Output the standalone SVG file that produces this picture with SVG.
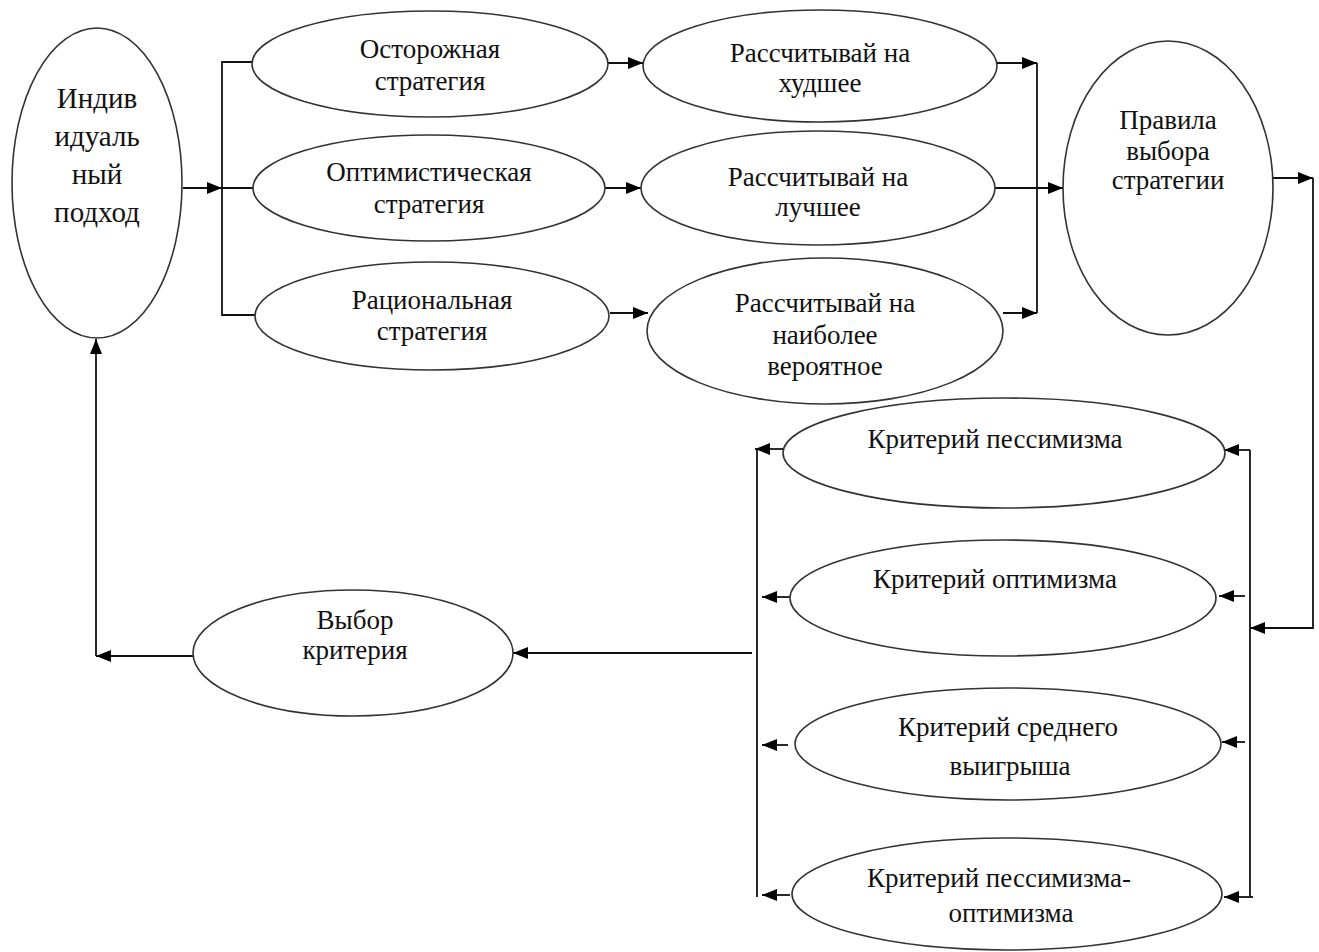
<svg xmlns="http://www.w3.org/2000/svg" width="1319" height="952" viewBox="0 0 1319 952">
<style>
.node ellipse{fill:#fff;stroke:#333;stroke-width:1.6}
.node text{font-family:"Liberation Serif","Times New Roman",serif;font-size:27px;fill:#111;text-anchor:middle}
#n1 text{font-size:29px}
.conn path{fill:none;stroke:#111;stroke-width:1.8}
.arr{marker-end:url(#ah)}
</style>
<defs>
<marker id="ah" markerUnits="userSpaceOnUse" markerWidth="16" markerHeight="14" refX="15" refY="7" orient="auto">
<path d="M0,1 L15,7 L0,13 z" fill="#000"/>
</marker>
</defs>
<rect width="1319" height="952" fill="#fff"/>
<g class="conn" id="connectors">
<path class="arr" d="M183,188 H222"/>
<path d="M253,62 H222 V315 H255 M222,188 H253"/>
<path class="arr" d="M607,63 H643"/>
<path class="arr" d="M605,188 H641"/>
<path class="arr" d="M610,313 H648"/>
<path class="arr" d="M997,63 H1037"/>
<path class="arr" d="M1003,313 H1037"/>
<path d="M1037,63 V313"/>
<path class="arr" d="M995,188 H1063"/>
<path class="arr" d="M1273,178 H1313"/>
<path class="arr" d="M1313,178 V628 H1250"/>
<path d="M1250,450 V897"/>
<path class="arr" d="M1250,450 H1224"/>
<path class="arr" d="M1245,596 H1219"/>
<path class="arr" d="M1245,742 H1222"/>
<path class="arr" d="M1253,897 H1224"/>
<path d="M757,449 V897"/>
<path class="arr" d="M783,449 H755"/>
<path class="arr" d="M790,597 H762"/>
<path class="arr" d="M788,745 H762"/>
<path class="arr" d="M790,895 H762"/>
<path class="arr" d="M752,653 H513"/>
<path class="arr" d="M193,656 H96"/>
<path class="arr" d="M96,656 V339"/>
</g>
<g class="node" id="n1"><ellipse cx="97" cy="183" rx="85" ry="155"/>
<text x="97" y="108">Индив</text><text x="97" y="146">идуаль</text><text x="97" y="184">ный</text><text x="97" y="222">подход</text></g>
<g class="node" id="n2"><ellipse cx="430" cy="64" rx="178" ry="53"/>
<text x="430" y="58">Осторожная</text><text x="430" y="90">стратегия</text></g>
<g class="node" id="n3"><ellipse cx="429" cy="188" rx="176" ry="53"/>
<text x="429" y="181">Оптимистическая</text><text x="429" y="213">стратегия</text></g>
<g class="node" id="n4"><ellipse cx="432" cy="316" rx="177" ry="54"/>
<text x="432" y="309">Рациональная</text><text x="432" y="340">стратегия</text></g>
<g class="node" id="n5"><ellipse cx="820" cy="66" rx="177" ry="56"/>
<text x="820" y="62">Рассчитывай на</text><text x="820" y="92">худшее</text></g>
<g class="node" id="n6"><ellipse cx="818" cy="188" rx="177" ry="57"/>
<text x="818" y="186">Рассчитывай на</text><text x="818" y="216">лучшее</text></g>
<g class="node" id="n7"><ellipse cx="825" cy="331" rx="178" ry="73"/>
<text x="825" y="312">Рассчитывай на</text><text x="825" y="344">наиболее</text><text x="825" y="375">вероятное</text></g>
<g class="node" id="n8"><ellipse cx="1168" cy="188" rx="105" ry="147"/>
<text x="1168" y="129">Правила</text><text x="1168" y="160">выбора</text><text x="1168" y="189">стратегии</text></g>
<g class="node" id="n9"><ellipse cx="1004" cy="453" rx="221" ry="55"/>
<text x="995" y="448">Критерий пессимизма</text></g>
<g class="node" id="n10"><ellipse cx="1003" cy="598" rx="213" ry="58"/>
<text x="995" y="588">Критерий оптимизма</text></g>
<g class="node" id="n11"><ellipse cx="1008" cy="744" rx="213" ry="56"/>
<text x="1008" y="736">Критерий среднего</text><text x="1010" y="775">выигрыша</text></g>
<g class="node" id="n12"><ellipse cx="1007" cy="894" rx="215" ry="56"/>
<text x="999" y="887">Критерий пессимизма-</text><text x="1011" y="922">оптимизма</text></g>
<g class="node" id="n13"><ellipse cx="353" cy="653" rx="160" ry="63"/>
<text x="355" y="629">Выбор</text><text x="355" y="659">критерия</text></g>
</svg>
